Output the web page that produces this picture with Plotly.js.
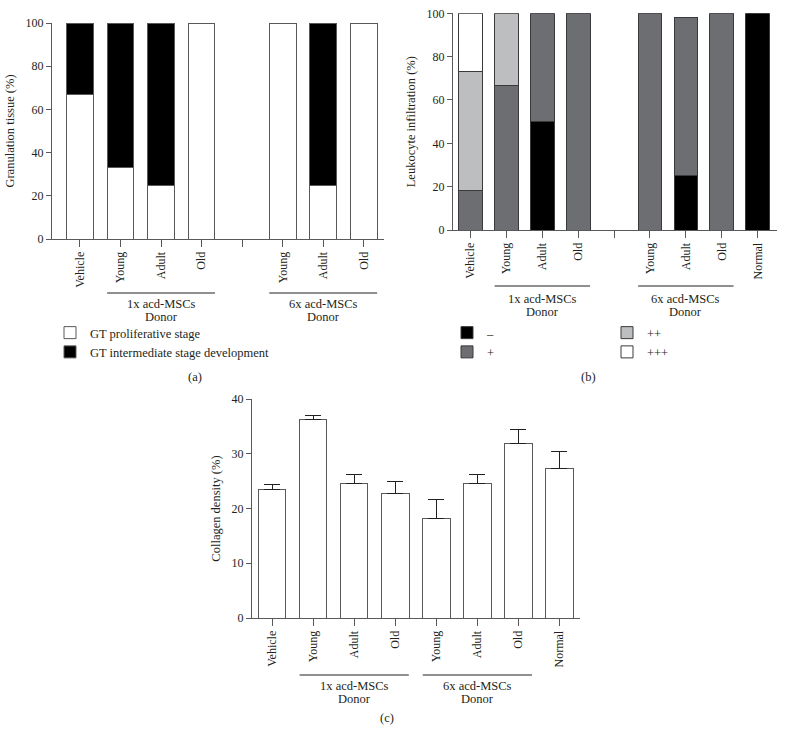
<!DOCTYPE html>
<html><head><meta charset="utf-8">
<script src="https://cdn.plot.ly/plotly-3.0.1.min.js"></script>
<style>html,body{margin:0;padding:0;background:#fff}#chart{width:785px;height:745px}</style>
</head><body><div id="chart"></div>
<script>
// ---- data ----
const catsA = ['Vehicle','Young','Adult','Old','','Young','Adult','Old'];
const gtProliferative = [66.7,33.3,25,100,null,100,25,100];
const gtIntermediate = [33.3,66.7,75,null,null,null,75,null];

const catsB = ['Vehicle','Young','Adult','Old','','Young','Adult','Old','Normal'];
const leukNeg  = [null,null,50,null,null,null,25,null,100];
const leukPlus = [18,66.7,50,100,null,100,73,100,null];
const leukPP   = [55,33.3,null,null,null,null,null,null,null];
const leukPPP  = [27,null,null,null,null,null,null,null,null];

const catsC = ['Vehicle','Young','Adult','Old','Young','Adult','Old','Normal'];
const collagen = [23.4,36.3,24.5,22.7,18.1,24.5,31.9,27.3];
const collagenErr = [1.0,0.6,1.7,2.2,3.5,1.7,2.6,3.2];

const groupA = [{label:'1x acd-MSCs', sub:'Donor', from:1, to:3},{label:'6x acd-MSCs', sub:'Donor', from:5, to:7}];
const groupB = [{label:'1x acd-MSCs', sub:'Donor', from:1, to:3},{label:'6x acd-MSCs', sub:'Donor', from:5, to:7}];
const groupC = [{label:'1x acd-MSCs', sub:'Donor', from:1, to:3},{label:'6x acd-MSCs', sub:'Donor', from:4, to:6}];

// ---- style ----
const W = 785, H = 745;
const FONT = 'Liberation Serif, Times New Roman, serif';
const TXT = '#231f20';
const AX = '#58595b';
const idx = a => a.map((_, i) => i);
const py = px => 1 - px / H;

const traces = [
  {type:'bar', x:idx(catsA), y:gtProliferative, name:'GT proliferative stage', xaxis:'x', yaxis:'y', legend:'legend',
   width:0.66, marker:{color:'#ffffff', line:{color:AX, width:1}}},
  {type:'bar', x:idx(catsA), y:gtIntermediate, name:'GT intermediate stage development', xaxis:'x', yaxis:'y', legend:'legend',
   width:0.66, marker:{color:'#000000', line:{color:AX, width:1}}},
  {type:'bar', x:idx(catsB), y:leukNeg, name:'\u2013', xaxis:'x2', yaxis:'y2', legend:'legend2',
   width:0.66, marker:{color:'#000000', line:{color:'#3a3a3c', width:1}}},
  {type:'bar', x:idx(catsB), y:leukPlus, name:'+', xaxis:'x2', yaxis:'y2', legend:'legend2',
   width:0.66, marker:{color:'#6d6e71', line:{color:'#3a3a3c', width:1}}},
  {type:'bar', x:idx(catsB), y:leukPP, name:'++', xaxis:'x2', yaxis:'y2', legend:'legend3',
   width:0.66, marker:{color:'#bcbec0', line:{color:'#3a3a3c', width:1}}},
  {type:'bar', x:idx(catsB), y:leukPPP, name:'+++', xaxis:'x2', yaxis:'y2', legend:'legend3',
   width:0.66, marker:{color:'#ffffff', line:{color:'#3a3a3c', width:1}}},
  {type:'bar', x:idx(catsC), y:collagen, name:'Collagen', xaxis:'x3', yaxis:'y3', showlegend:false,
   width:0.67, marker:{color:'#ffffff', line:{color:AX, width:1}},
   error_y:{type:'data', symmetric:false, array:collagenErr, arrayminus:collagen.map(()=>0), color:'#231f20', thickness:1, width:8}}
];

const tickfont = {family:FONT, size:12, color:TXT};
function xax(domain, cats, range){
  return {domain, range, tickmode:'array', tickvals:idx(cats), ticktext:cats, tickangle:-90,
    showline:true, linecolor:AX, linewidth:1, ticks:'outside', ticklen:7, tickcolor:AX,
    showgrid:false, zeroline:false, tickfont, fixedrange:true};
}
function yax(domain, range, dtick, title, anchor){
  return {domain, range, dtick, anchor, showline:true, linecolor:AX, linewidth:1, ticks:'outside', ticklen:5, tickcolor:AX,
    showgrid:false, zeroline:false, tickfont, title:{text:title, font:{family:FONT, size:12.5, color:TXT}, standoff:8}};
}

const shapes = [], annotations = [];
const annFont = {family:FONT, size:12.5, color:TXT};
function addGroups(groups, xref, linePx, t1, t2){
  groups.forEach(g => {
    shapes.push({type:'line', xref, yref:'paper', x0:g.from-0.33, x1:g.to+0.33, y0:py(linePx), y1:py(linePx),
      line:{color:'#231f20', width:1}});
    annotations.push({xref, yref:'paper', x:(g.from+g.to)/2, y:py(t1), yanchor:'middle', xanchor:'center',
      text:g.label, showarrow:false, font:annFont});
    annotations.push({xref, yref:'paper', x:(g.from+g.to)/2, y:py(t2), yanchor:'middle', xanchor:'center',
      text:g.sub, showarrow:false, font:annFont});
  });
}
addGroups(groupA, 'x', 293, 304, 317);
addGroups(groupB, 'x2', 286, 299, 312);
addGroups(groupC, 'x3', 675, 686, 699);
[['(a)',195,377],['(b)',588,377],['(c)',387,718]].forEach(([t,x,y]) => annotations.push({
  xref:'paper', yref:'paper', x:x/W, y:py(y), text:t, showarrow:false, xanchor:'center', yanchor:'middle',
  font:annFont}));

const legFont = {family:FONT, size:12.5, color:TXT};
const layout = {
  width:W, height:H, margin:{l:0, r:0, t:0, b:0}, paper_bgcolor:'#fff', plot_bgcolor:'#fff',
  barmode:'stack', font:{family:FONT, color:TXT},
  xaxis: xax([52/W, 384/W], catsA, [-0.69, 7.5]),
  yaxis: yax([py(239), py(23)], [0,100], 20, 'Granulation tissue (%)', 'x'),
  xaxis2: xax([453/W, 777/W], catsB, [-0.49, 8.54]),
  yaxis2: yax([py(230), py(13.3)], [0,100], 20, 'Leukocyte infiltration (%)', 'x2'),
  xaxis3: xax([252/W, 580/W], catsC, [-0.49, 7.5]),
  yaxis3: yax([py(618), py(399)], [0,40], 10, 'Collagen density (%)', 'x3'),
  legend:{x:50/W, y:py(318), xanchor:'left', yanchor:'top', traceorder:'normal', font:legFont, bgcolor:'rgba(0,0,0,0)', tracegroupgap:0},
  legend2:{x:447/W, y:py(318), xanchor:'left', yanchor:'top', traceorder:'normal', font:legFont, bgcolor:'rgba(0,0,0,0)'},
  legend3:{x:607/W, y:py(318), xanchor:'left', yanchor:'top', traceorder:'normal', font:legFont, bgcolor:'rgba(0,0,0,0)'},
  shapes, annotations
};
layout.xaxis.anchor = 'y'; layout.xaxis2.anchor = 'y2'; layout.xaxis3.anchor = 'y3';
Plotly.newPlot('chart', traces, layout, {displayModeBar:false, staticPlot:true});
</script></body></html>
